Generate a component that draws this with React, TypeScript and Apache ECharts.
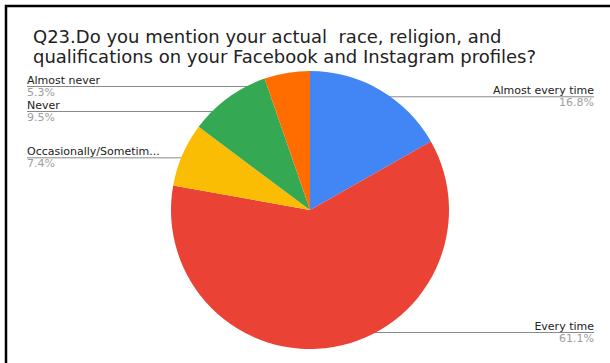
import React, { useEffect, useRef } from "react";
import * as echarts from "echarts";

const TITLE =
  "Q23.Do you mention your actual  race, religion, and\nqualifications on your Facebook and Instagram profiles?";
const categories = [
  "Almost every time",
  "Every time",
  "Occasionally/Sometim...",
  "Never",
  "Almost never",
];
const values = [16.8, 61.1, 7.4, 9.5, 5.3];
const colors = ["#4285F4", "#EA4335", "#FBBC04", "#34A853", "#FF6D01"];

const FONT = "DejaVu Sans";

export default function App() {
  const ref = useRef<HTMLDivElement>(null);
  useEffect(() => {
    if (!ref.current) return;
    const chart = echarts.init(ref.current, undefined, { renderer: "svg" });
    const data = categories.map((name, i) => ({
      name,
      value: values[i],
      itemStyle: { color: colors[i] },
    }));
    const labelData = categories.map((name, i) => ({ name, value: values[i] }));
    const box = { left: 17, right: 6, top: 74, bottom: 18 };
    const center = [293, 136];
    chart.setOption({
      animation: false,
      backgroundColor: "#ffffff",
      title: {
        text: TITLE,
        left: 28,
        top: 21,
        textStyle: {
          fontFamily: FONT,
          fontSize: 18,
          lineHeight: 20,
          color: "#222222",
          fontWeight: "normal",
        },
      },
      graphic: [
        {
          type: "rect",
          shape: { x: 6, y: 6, width: 800, height: 600 },
          style: { fill: "none", stroke: "#000000", lineWidth: 2.5 },
          silent: true,
        },
      ],
      series: [
        {
          type: "pie",
          ...box,
          center,
          radius: 139,
          startAngle: 90,
          clockwise: true,
          label: { show: false },
          labelLine: { show: false },
          emphasis: { disabled: true },
          data,
        },
        {
          type: "pie",
          ...box,
          center,
          radius: 131,
          startAngle: 90,
          clockwise: true,
          silent: true,
          itemStyle: { color: "rgba(0,0,0,0)" },
          label: {
            show: true,
            alignTo: "edge",
            edgeDistance: 10,
            minMargin: 2,
            formatter: (p: any) => `{n|${p.name}}\n{p|${p.value}%}`,
            rich: {
              n: { fontFamily: FONT, fontSize: 11, color: "#222222", lineHeight: 12 },
              p: { fontFamily: FONT, fontSize: 11, color: "#9e9e9e", lineHeight: 12 },
            },
          },
          labelLine: {
            show: true,
            length: 0,
            length2: 0,
            lineStyle: { color: "#8a8a8a", width: 1 },
          },
          labelLayout: (params: any) => {
            const isLeft = params.labelRect.x < 305;
            const pts = params.labelLinePoints;
            if (pts) {
              pts[2][0] = isLeft
                ? params.labelRect.x
                : params.labelRect.x + params.labelRect.width;
            }
            return { labelLinePoints: pts };
          },
          emphasis: { disabled: true },
          data: labelData,
        },
      ],
    });
    return () => chart.dispose();
  }, []);
  return (
    <div
      ref={ref}
      style={{ position: "absolute", left: 0, top: 0, width: 610, height: 363, background: "#fff" }}
    />
  );
}
